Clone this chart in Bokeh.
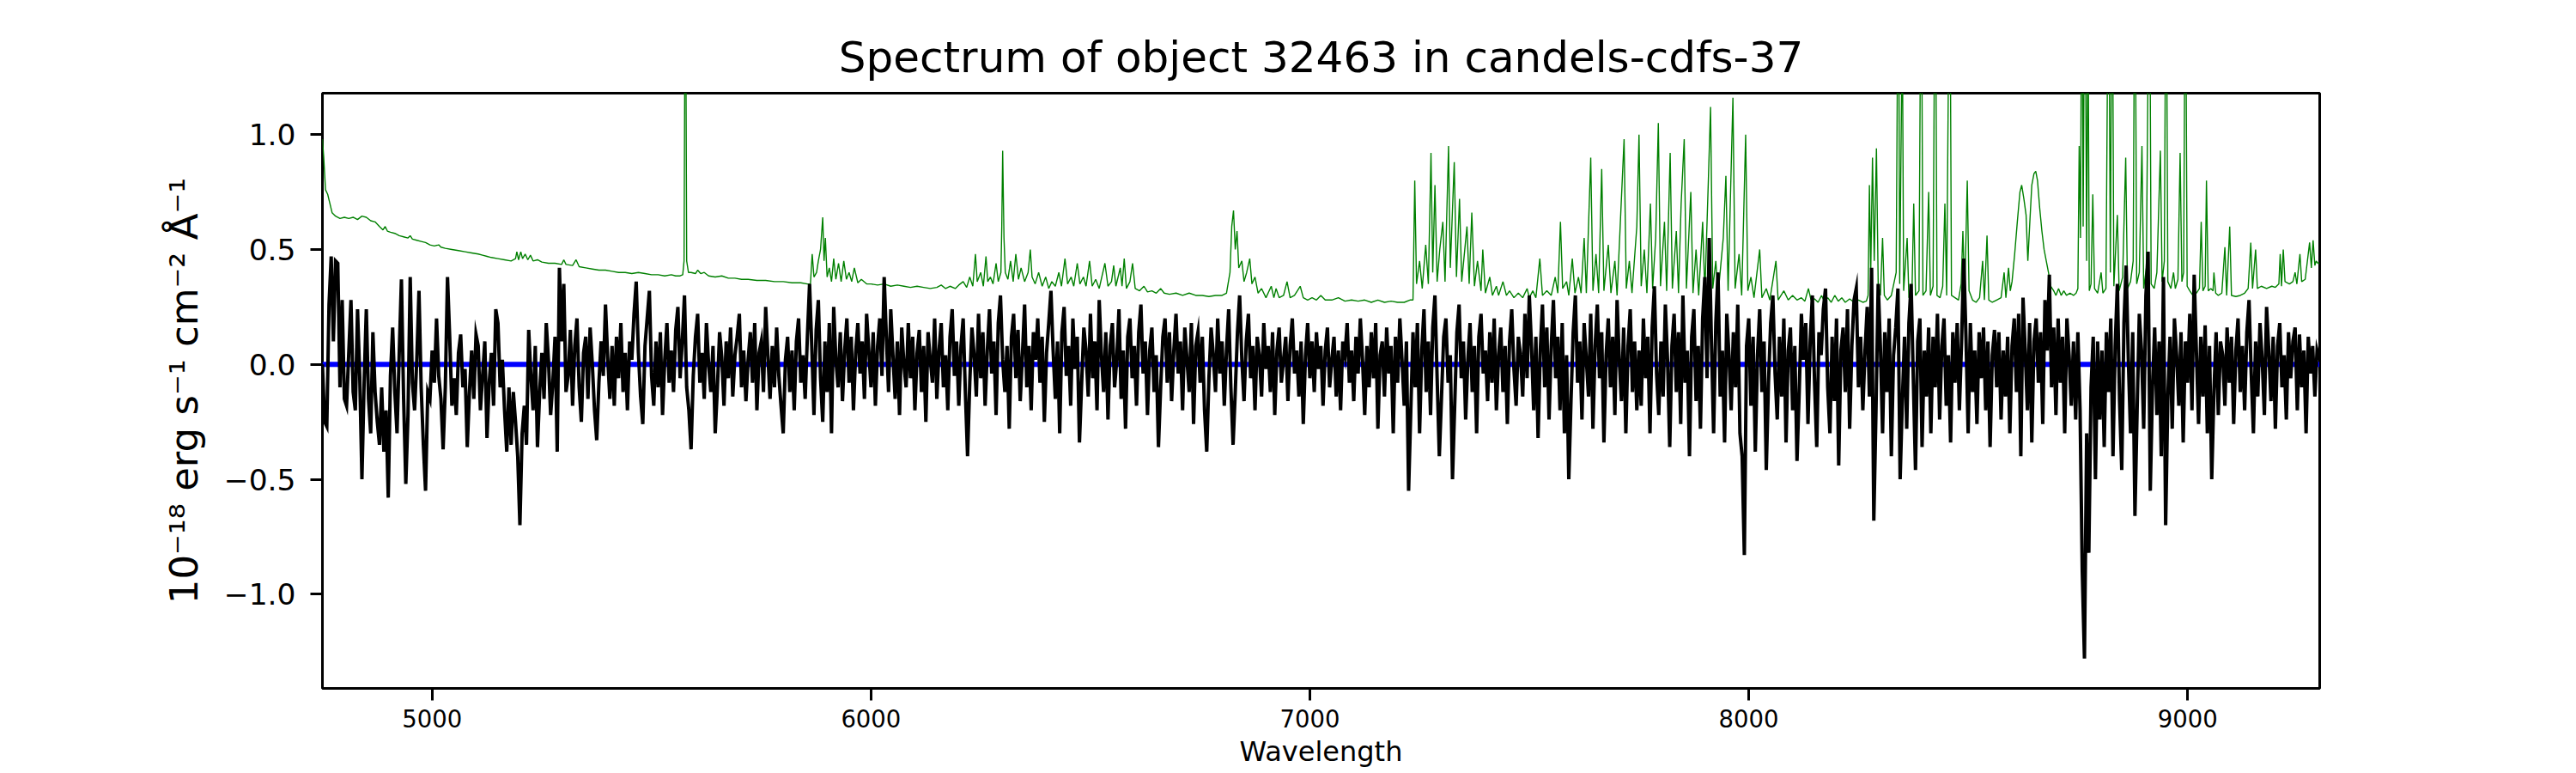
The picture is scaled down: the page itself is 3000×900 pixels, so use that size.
import numpy as np
from bokeh.plotting import figure
from bokeh.models import Range1d, FixedTicker, CustomJSTickFormatter
from bokeh.embed import file_html
from bokeh.resources import INLINE

# ---------------- data ----------------
title_text = "Spectrum of object 32463 in candels-cdfs-37"
x_label = "Wavelength"
y_label = "10\u207b\u00b9\u2078 erg s\u207b\u00b9 cm\u207b\u00b2 \u00c5\u207b\u00b9"
x_ticks = [5000, 6000, 7000, 8000, 9000]
y_ticks = [-1.0, -0.5, 0.0, 0.5, 1.0]

# observed flux, sampled every 5 A from 4750 A, in units of 0.01e-18
flux_4750 = [0, -25, -27, 26, 47, 10, 45, 44, -10, 28,
             -15, -18, 5, 28, -12, -20, 24, -5, -50, -8,
             24, -15, -30, 14, -12, -25, -35, -10, -38, -20,
             -58, -5, 16, -12, -30, 5, 37, -15, -52, -22,
             38, -8, -20, 2, 32, -10, -35, -55, -12, -15,
             6, -8, 20, -5, -15, -37, -10, 38, 12, -18,
             -6, -22, 5, 13, -10, -2, -36, -12, 6, -15,
             13, 8, -20, -5, 10, -32, -8, 5, -18, 24,
             18, -10, 2, -20, -38, -10, -35, -12, -25, -40,
             -70, -30, -18, -35, 15, -5, -20, 8, -36, -12]
flux_5250 = [5, -15, 18, 2, -22, -8, 12, -38, 42, 10,
             35, -12, -5, 15, -18, 8, 20, -10, -25, 5,
             12, -15, 16, 0, -20, -33, -8, 10, -5, 26,
             3, -15, 8, -18, 12, -6, 18, -12, 5, -20,
             10, 2, 22, 36, 5, -14, -26, 8, 20, 32,
             -5, -18, 10, -10, 14, -22, 2, 18, -8, 6,
             -12, 15, 25, -6, 10, 30, -10, -20, -37, -5,
             12, 22, -8, 5, -15, 18, 0, -12, 8, -30,
             -10, 14, 3, -18, 10, -6, 16, -14, 4, 12,
             22, -10, 6, -16, 2, 14, -8, 18, -20, 5]
flux_5750 = [10, -12, 25, 4, -15, 8, -10, 16, -5, -18,
             -30, 2, 12, -12, 6, -20, 10, 20, -8, 4,
             -15, 12, 35, 8, -22, 15, 28, -6, -25, 10,
             -12, 18, -30, 25, 2, -10, 14, -16, 6, 20,
             -8, 12, -20, 5, 18, -4, 10, -15, 22, 6,
             -10, 14, -18, 8, 20, -5, 38, 12, -12, 24,
             4, -15, 10, -22, 16, 0, -10, 18, -6, 12,
             -20, 5, 15, -12, 8, -25, 14, 2, -8, 20,
             -15, 6, 18, -10, 4, -20, 12, 24, -5, 10,
             -18, 8, 20, -12, -40, -8, 16, 4, -14, 22]
flux_6250 = [-6, 14, -18, 6, 24, -4, 10, -22, 18, 30,
             2, -12, 8, -28, 12, 22, -6, 15, -16, 4,
             26, -10, 8, -20, 14, 2, 20, -8, 12, -25,
             5, 18, 32, 6, -15, 10, -30, 14, 25, -5,
             8, -18, 20, -2, 12, -34, -8, 16, 6, -14,
             22, -6, 10, -20, 28, 4, -12, 14, -24, 8,
             18, -10, 2, 24, -15, 6, -28, 12, 20, -6,
             8, -18, 14, 26, -4, 10, -22, 6, 16, -12,
             4, -36, -10, 12, 20, -8, 14, -16, 6, 22,
             -4, 10, -20, 16, 2, -12, 18, -26, 8, 14]
flux_6750 = [-8, 12, -20, -38, -6, 16, 4, -12, 20, -4,
             10, -18, 6, 24, -10, -35, -12, 14, 30, 2,
             -16, 10, 22, -6, 8, -20, 12, 4, -14, 18,
             -2, 8, -12, 14, -22, 6, 16, -8, 2, 12,
             -16, 8, 20, -4, 6, -14, 10, -26, 4, 18,
             -6, 10, -12, 14, -2, 8, -18, 6, 16, -10,
             2, 12, -14, 6, -20, 10, 4, 18, -8, 6,
             -16, 12, -4, 20, 2, -22, 8, -10, 14, -6,
             18, -28, 4, 10, -14, 16, -4, 8, -30, 12,
             -8, 20, 2, -18, 10, -55, -20, 14, -10, 18]
flux_7250 = [-30, 6, 24, -12, 10, -22, 16, 30, -6, -40,
             -14, 12, 20, -8, 4, -50, -18, 14, 26, -6,
             10, -24, 2, 18, -12, 8, -30, 12, 22, -4,
             6, -16, 14, -8, 20, -20, 4, 16, -12, 8,
             -26, 10, 24, -2, -18, 12, 4, -14, 22, -6,
             30, 8, -20, 12, -32, 6, 26, -10, 16, -24,
             8, 28, -6, 12, -20, 18, -30, 4, -50, -16,
             14, 30, -8, 10, -24, 18, 2, -14, 22, -28,
             8, 26, -6, 14, -34, 4, 20, -10, 12, -22,
             28, 2, -16, 16, -30, 8, 24, -12, 10, -20]
flux_7750 = [6, -18, 20, -6, 12, -30, 16, 34, -4, -22,
             10, -14, 26, 2, -36, 8, 22, -12, 14, -26,
             30, -8, 6, -40, 12, 24, -16, 8, -28, 20,
             38, -6, 55, 10, -30, 18, 40, -14, 6, -34,
             22, 4, -20, 14, -10, 26, -30, -40, -83, 8,
             20, -18, 12, -38, 4, 24, -12, 10, -46, -8,
             18, 30, -4, -24, 12, -14, 20, -34, 6, 16,
             -20, 8, -42, -12, 22, 2, 18, -26, 10, 30,
             -8, -36, 14, 4, 24, 33, -10, -30, 12, -16,
             20, -44, 6, 16, -12, 24, -28, 8, 28, 33]
flux_8250 = [-10, 12, -20, 6, 25, -14, 42, -68, -20, 35,
             8, -30, 14, -12, 20, -40, 4, 16, 33, -50,
             -16, 12, -28, 18, 35, -6, -46, 10, 20, -36,
             6, -14, 16, -30, 12, -10, 22, -24, 8, 20,
             -18, 4, -34, 14, -8, 18, -20, 10, 46, 12,
             -30, 18, -12, 6, -26, 14, -6, 16, -20, 10,
             -36, 4, 15, -10, 14, -24, 6, -14, 12, -30,
             8, 20, -12, 22, -40, 29, 6, -20, 18, -34,
             10, 20, -8, 14, -26, 28, 6, 39, -10, 16,
             -22, 20, -8, 12, -30, 20, 4, -18, 10, -24]
flux_8750 = [14, -20, -90, -128, -30, -82, -10, 12, -50, 10,
             -24, 6, -36, 14, -12, 20, -40, 8, 35, -16,
             -46, 18, 43, 2, -30, 14, -66, -20, 22, 6,
             -28, 30, 49, -55, -10, 16, -22, 10, -40, 38,
             -70, -14, 12, -28, 20, 4, -18, 14, -34, 10,
             -8, 22, -20, 39, 6, -26, 12, -14, 17, -30,
             8, -50, -12, 14, -22, 10, 4, -18, 16, -8,
             12, -26, 6, 20, -12, 8, -20, 14, 28, -4,
             -30, 10, -14, 18, 2, -22, 25, 6, -16, 12,
             -28, 8, 18, -10, 4, -24, 14, -6, 10, 16]
flux_9250 = [-20, 13, -10, 6, -30, 12, -4, 8, -14, 6, 2]

# sky / noise spectrum: (wavelength, flux) pairs
sky_a = [(4750, 0.98), (4753, 0.90), (4757, 0.76), (4762, 0.74), (4767, 0.70), (4772, 0.66),
         (4780, 0.645), (4790, 0.635), (4800, 0.64), (4810, 0.635), (4820, 0.64), (4830, 0.63),
         (4840, 0.645), (4850, 0.64), (4860, 0.625), (4870, 0.62), (4880, 0.60), (4888, 0.585),
         (4893, 0.60), (4898, 0.58), (4905, 0.575), (4915, 0.57), (4925, 0.56), (4935, 0.555),
         (4945, 0.55), (4950, 0.56), (4955, 0.545), (4965, 0.54), (4975, 0.535), (4985, 0.53),
         (4995, 0.52), (5005, 0.515), (5015, 0.52), (5020, 0.51), (5030, 0.505), (5045, 0.50),
         (5060, 0.495), (5075, 0.49), (5090, 0.485), (5105, 0.48), (5115, 0.475), (5125, 0.47),
         (5135, 0.465), (5150, 0.46), (5165, 0.455), (5180, 0.45), (5190, 0.46), (5193, 0.49),
         (5197, 0.455), (5202, 0.49), (5206, 0.46), (5212, 0.48), (5218, 0.455), (5224, 0.475),
         (5230, 0.45), (5240, 0.455), (5250, 0.445), (5265, 0.44), (5280, 0.44), (5295, 0.435),
         (5300, 0.455), (5305, 0.435), (5320, 0.43), (5328, 0.455), (5335, 0.425), (5350, 0.42),
         (5365, 0.415), (5380, 0.41), (5395, 0.41), (5410, 0.405), (5425, 0.40), (5440, 0.40),
         (5455, 0.395), (5470, 0.40), (5485, 0.395), (5500, 0.39), (5515, 0.39), (5530, 0.385),
         (5545, 0.39), (5555, 0.385), (5565, 0.385), (5571, 0.39), (5574, 0.45), (5577, 2.0),
         (5580, 0.45), (5584, 0.40), (5590, 0.40)]
sky_b = [(5600, 0.395), (5605, 0.41), (5612, 0.395), (5620, 0.40), (5630, 0.385), (5645, 0.38),
         (5660, 0.385), (5675, 0.375), (5690, 0.375), (5705, 0.37), (5720, 0.37), (5740, 0.365),
         (5760, 0.365), (5780, 0.36), (5800, 0.36), (5820, 0.355), (5840, 0.355), (5855, 0.35),
         (5862, 0.35), (5866, 0.48), (5870, 0.38), (5876, 0.40), (5880, 0.45), (5885, 0.50),
         (5890, 0.64), (5893, 0.45), (5896, 0.55), (5900, 0.38), (5905, 0.42), (5910, 0.36),
         (5915, 0.46), (5920, 0.37), (5926, 0.44), (5932, 0.36), (5938, 0.45), (5944, 0.37),
         (5950, 0.40), (5956, 0.36), (5962, 0.42), (5970, 0.355), (5978, 0.37), (5990, 0.35),
         (6000, 0.35), (6015, 0.345), (6030, 0.35), (6045, 0.34), (6060, 0.345), (6075, 0.34),
         (6090, 0.335), (6105, 0.34), (6120, 0.335), (6135, 0.33), (6150, 0.335), (6160, 0.345),
         (6170, 0.33), (6180, 0.34), (6192, 0.33), (6200, 0.345), (6210, 0.36), (6218, 0.335),
         (6225, 0.38), (6232, 0.34), (6238, 0.48), (6242, 0.36)]
sky_c = [(6250, 0.40), (6256, 0.34), (6262, 0.47), (6266, 0.36), (6272, 0.38), (6278, 0.35),
         (6285, 0.44), (6290, 0.36), (6296, 0.40), (6298, 0.60), (6300, 0.93), (6303, 0.55),
         (6306, 0.40), (6312, 0.37), (6318, 0.45), (6324, 0.36), (6330, 0.48), (6336, 0.37),
         (6342, 0.42), (6350, 0.36), (6358, 0.40), (6363, 0.50), (6367, 0.38), (6374, 0.35),
         (6382, 0.40), (6390, 0.34), (6398, 0.38), (6405, 0.33), (6412, 0.36), (6420, 0.34),
         (6428, 0.40), (6434, 0.34), (6442, 0.46), (6448, 0.35), (6456, 0.38), (6462, 0.34),
         (6470, 0.44), (6476, 0.35), (6484, 0.38), (6490, 0.34), (6498, 0.45), (6504, 0.34),
         (6512, 0.37), (6520, 0.33), (6533, 0.44), (6540, 0.34), (6548, 0.36), (6553, 0.43),
         (6558, 0.34), (6568, 0.42), (6572, 0.34), (6577, 0.46), (6582, 0.33), (6590, 0.36),
         (6596, 0.44), (6602, 0.33), (6612, 0.32), (6622, 0.34), (6630, 0.315), (6640, 0.32),
         (6650, 0.31), (6660, 0.33), (6668, 0.31), (6680, 0.305), (6695, 0.31), (6710, 0.30),
         (6725, 0.31), (6740, 0.30)]
sky_d = [(6755, 0.30), (6770, 0.295), (6785, 0.30), (6800, 0.30), (6810, 0.31), (6818, 0.40),
         (6822, 0.60), (6826, 0.67), (6830, 0.50), (6834, 0.58), (6838, 0.42), (6845, 0.45),
         (6850, 0.36), (6856, 0.40), (6863, 0.46), (6868, 0.35), (6875, 0.38), (6882, 0.31),
         (6890, 0.33), (6900, 0.29), (6912, 0.34), (6918, 0.29), (6923, 0.33), (6930, 0.29),
         (6940, 0.30), (6948, 0.36), (6955, 0.29), (6965, 0.30), (6978, 0.34), (6985, 0.29),
         (6995, 0.28), (7005, 0.29), (7015, 0.28), (7025, 0.30), (7035, 0.28), (7050, 0.28),
         (7065, 0.29), (7080, 0.275), (7095, 0.28), (7110, 0.275), (7125, 0.28), (7140, 0.27),
         (7155, 0.28), (7170, 0.27), (7185, 0.275), (7200, 0.27), (7215, 0.27), (7228, 0.28)]
sky_e = [(7235, 0.28), (7239, 0.80), (7243, 0.35), (7250, 0.45), (7256, 0.33), (7264, 0.52),
         (7270, 0.35), (7276, 0.92), (7280, 0.40), (7285, 0.78), (7290, 0.36), (7296, 0.50),
         (7303, 0.62), (7308, 0.36), (7316, 0.95), (7320, 0.42), (7329, 0.88), (7334, 0.38),
         (7341, 0.72), (7346, 0.36), (7358, 0.60), (7363, 0.35), (7369, 0.66), (7375, 0.34),
         (7382, 0.45), (7390, 0.32), (7394, 0.50), (7400, 0.31), (7410, 0.38), (7416, 0.30),
         (7425, 0.34), (7430, 0.30), (7440, 0.36), (7448, 0.30), (7455, 0.32), (7465, 0.29),
         (7475, 0.31), (7485, 0.29), (7495, 0.33), (7500, 0.29), (7508, 0.32), (7515, 0.29),
         (7524, 0.46), (7530, 0.30), (7540, 0.32), (7550, 0.30), (7559, 0.38), (7565, 0.31),
         (7571, 0.62), (7576, 0.33), (7585, 0.36), (7590, 0.30), (7598, 0.46), (7604, 0.31),
         (7612, 0.38), (7618, 0.31)]
sky_f = [(7625, 0.55), (7630, 0.31), (7640, 0.90), (7645, 0.32), (7652, 0.48), (7658, 0.31),
         (7665, 0.85), (7670, 0.32), (7680, 0.52), (7686, 0.31), (7695, 0.45), (7700, 0.30),
         (7716, 0.98), (7721, 0.33), (7728, 0.45), (7734, 0.31), (7745, 0.60), (7750, 1.00),
         (7755, 0.34), (7762, 0.50), (7768, 0.31), (7776, 0.70), (7781, 0.33), (7788, 0.55),
         (7794, 1.05), (7799, 0.34), (7808, 0.62), (7813, 0.32), (7821, 0.92), (7826, 0.33),
         (7835, 0.58), (7840, 0.31), (7846, 0.70), (7853, 0.98), (7858, 0.33), (7868, 0.75),
         (7873, 0.31), (7880, 0.50), (7886, 0.30), (7895, 0.62), (7900, 0.31), (7908, 0.80),
         (7913, 1.12), (7918, 0.33), (7925, 0.45), (7930, 0.30), (7942, 0.55), (7948, 0.82),
         (7953, 0.32), (7964, 1.16), (7969, 0.33), (7978, 0.48), (7984, 0.30), (7993, 1.00),
         (7998, 0.32), (8005, 0.38), (8012, 0.29), (8025, 0.50), (8030, 0.29), (8040, 0.33),
         (8048, 0.28), (8062, 0.45), (8067, 0.28), (8080, 0.32), (8090, 0.28), (8100, 0.30),
         (8110, 0.28), (8120, 0.29), (8128, 0.275), (8136, 0.33), (8142, 0.28), (8150, 0.285),
         (8158, 0.27), (8166, 0.30), (8172, 0.275), (8180, 0.29), (8188, 0.27), (8196, 0.30),
         (8204, 0.275), (8212, 0.29), (8220, 0.27), (8230, 0.285), (8240, 0.27), (8250, 0.28),
         (8260, 0.27), (8268, 0.275)]
sky_g = [(8272, 0.30), (8275, 0.78), (8278, 0.40), (8282, 0.90), (8286, 0.45), (8291, 0.94),
         (8295, 0.35), (8300, 0.30), (8305, 0.55), (8309, 0.30), (8316, 0.28), (8325, 0.30),
         (8336, 0.40), (8341, 2.0), (8344, 0.35), (8350, 1.5), (8353, 0.32), (8361, 0.55),
         (8365, 0.29), (8372, 0.32), (8376, 0.70), (8380, 0.30), (8388, 0.32), (8393, 2.0),
         (8397, 0.30), (8404, 0.32), (8410, 0.75), (8414, 0.30), (8420, 0.34), (8425, 2.0),
         (8429, 0.30), (8436, 0.29), (8442, 0.34), (8447, 0.70), (8451, 0.30), (8458, 2.0),
         (8462, 0.30), (8470, 0.29), (8478, 0.28), (8484, 0.35), (8488, 0.58), (8492, 0.30),
         (8498, 0.80), (8502, 0.32), (8510, 0.28), (8518, 0.27), (8526, 0.29), (8533, 0.45),
         (8537, 0.28), (8543, 0.56), (8547, 0.28), (8555, 0.27), (8565, 0.28), (8575, 0.29),
         (8582, 0.40), (8586, 0.29), (8592, 0.42), (8596, 0.32), (8600, 0.36), (8606, 0.48),
         (8612, 0.62), (8618, 0.75), (8622, 0.78), (8627, 0.72), (8632, 0.65), (8636, 0.45),
         (8640, 0.60), (8645, 0.78), (8650, 0.83), (8654, 0.84), (8658, 0.80), (8663, 0.68),
         (8668, 0.58), (8673, 0.50), (8678, 0.45), (8683, 0.40), (8688, 0.34), (8695, 0.32),
         (8700, 0.30), (8706, 0.33), (8712, 0.30), (8718, 0.32), (8724, 0.30), (8732, 0.31),
         (8740, 0.30), (8746, 0.31)]
sky_h = [(8750, 0.33), (8753, 0.95), (8756, 0.55), (8759, 2.0), (8762, 0.60), (8766, 2.0),
         (8770, 0.45), (8773, 1.6), (8776, 0.32), (8780, 0.35), (8784, 0.74), (8788, 0.33),
         (8795, 0.31), (8803, 0.40), (8807, 0.31), (8814, 0.33), (8820, 2.0), (8824, 0.40),
         (8828, 2.0), (8832, 0.34), (8840, 0.65), (8844, 0.32), (8852, 0.38), (8859, 0.90),
         (8863, 0.33), (8870, 0.36), (8876, 0.45), (8880, 2.0), (8884, 0.35), (8890, 0.40),
         (8896, 0.95), (8900, 0.33), (8906, 0.42), (8913, 2.0), (8917, 0.35), (8924, 0.33),
         (8930, 0.40), (8938, 0.93), (8942, 0.36), (8947, 0.45), (8951, 2.0), (8955, 0.36),
         (8962, 0.33), (8968, 0.40), (8972, 0.33), (8978, 0.37), (8983, 0.92), (8987, 0.36),
         (8991, 0.40), (8995, 2.0), (8999, 0.34), (9005, 0.32), (9012, 0.30), (9020, 0.31),
         (9027, 0.33), (9031, 0.62), (9035, 0.32), (9040, 0.34), (9043, 0.80), (9047, 0.32),
         (9053, 0.33), (9058, 0.32), (9060, 0.40), (9064, 0.31), (9070, 0.30), (9078, 0.31),
         (9085, 0.51), (9089, 0.30), (9096, 0.60), (9100, 0.30), (9110, 0.295), (9120, 0.30),
         (9130, 0.31), (9138, 0.33), (9144, 0.53), (9148, 0.33), (9155, 0.50), (9159, 0.33),
         (9168, 0.34), (9180, 0.33), (9192, 0.34), (9200, 0.335), (9208, 0.35), (9211, 0.48),
         (9214, 0.34), (9218, 0.50), (9222, 0.36), (9232, 0.35), (9240, 0.36), (9245, 0.40),
         (9249, 0.35), (9256, 0.48), (9260, 0.36), (9268, 0.37), (9278, 0.53), (9282, 0.42),
         (9286, 0.54), (9290, 0.43), (9293, 0.45), (9297, 0.44), (9300, 0.44)]

# model (zero level)
model_wave = [4750, 9300]
model_flux = [0.0, 0.0]

# ---------------- assemble ----------------
obs_flux = np.array(flux_4750 + flux_5250 + flux_5750 + flux_6250 + flux_6750 +
                    flux_7250 + flux_7750 + flux_8250 + flux_8750 + flux_9250) / 100.0
obs_wave = np.arange(4750, 4750 + 5 * len(obs_flux), 5)

sky = sky_a + sky_b + sky_c + sky_d + sky_e + sky_f + sky_g + sky_h
sky_wave = [w for w, f in sky]
sky_flux = [f for w, f in sky]

# ---------------- figure ----------------
FONT = "DejaVu Sans"
p = figure(frame_width=2326, frame_height=693,
           min_border_left=375, min_border_right=299,
           min_border_top=108, min_border_bottom=99,
           x_range=Range1d(4750, 9301), y_range=Range1d(-1.41, 1.18),
           output_backend="svg", toolbar_location=None, title=title_text)

p.background_fill_color = "white"
p.border_fill_color = "white"
p.outline_line_color = "black"
p.outline_line_width = 3
p.outline_line_alpha = 1.0
p.xgrid.visible = False
p.ygrid.visible = False

p.title.text_font = FONT
p.title.text_font_size = "50px"
p.title.text_font_style = "normal"
p.title.text_color = "black"
p.title.align = "center"
p.title.standoff = 25

p.line(sky_wave, sky_flux, line_color="#008000", line_width=1.4)
p.line(model_wave, model_flux, line_color="#0000ff", line_width=6)
p.line(obs_wave, obs_flux, line_color="black", line_width=4, line_join="miter")

for ax in (p.xaxis[0], p.yaxis[0]):
    ax.axis_line_color = None
    ax.major_tick_line_color = "black"
    ax.major_tick_line_width = 3
    ax.major_tick_out = 14
    ax.major_tick_in = 0
    ax.minor_tick_line_color = None
    ax.major_label_text_font = FONT
    ax.major_label_text_color = "black"
    ax.axis_label_text_font = FONT
    ax.axis_label_text_font_style = "normal"
    ax.axis_label_text_color = "black"

xa = p.xaxis[0]
xa.ticker = FixedTicker(ticks=x_ticks)
xa.major_label_text_font_size = "27.5px"
xa.major_label_standoff = 10
xa.axis_label = x_label
xa.axis_label_text_font_size = "32px"
xa.axis_label_standoff = 6

ya = p.yaxis[0]
ya.ticker = FixedTicker(ticks=y_ticks)
ya.formatter = CustomJSTickFormatter(code="return tick.toFixed(1).replace('-', '\\u2212');")
ya.major_label_text_font_size = "34.5px"
ya.major_label_standoff = 17
ya.axis_label = y_label
ya.axis_label_text_font_size = "45px"
ya.axis_label_standoff = 17

with open("out.html", "w", encoding="utf-8") as fh:
    fh.write(file_html(p, INLINE))
